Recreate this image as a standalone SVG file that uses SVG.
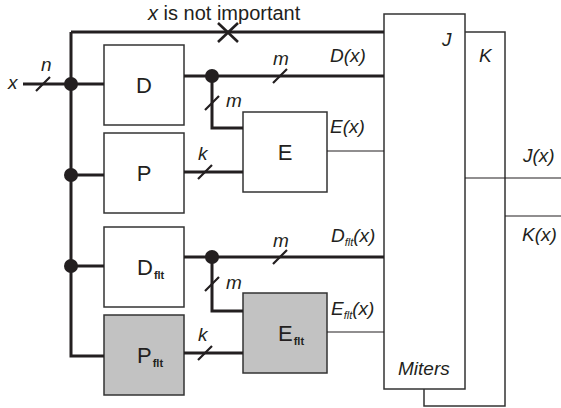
<svg xmlns="http://www.w3.org/2000/svg" width="561" height="408" viewBox="0 0 561 408">
<style>
.box{fill:#fff;stroke:#333;stroke-width:1.5}
.grey{fill:#c2c2c2}
.thick{fill:none;stroke:#231f20;stroke-width:3}
.thin{fill:none;stroke:#231f20;stroke-width:1.2}
.sl{fill:none;stroke:#231f20;stroke-width:2.2}
.dot{fill:#231f20}
text{font-family:"Liberation Sans",Arial,sans-serif;fill:#231f20}
.it{font-style:italic;font-size:19px}
.bl{font-size:22px}
.sub{font-size:11px;font-weight:bold}
.isub{font-size:11px;font-style:italic}
</style>
<rect width="561" height="408" fill="#fff"/>
<g id="K"><rect class="box" x="424" y="32" width="81" height="374"/><text class="it" x="479" y="62">K</text></g>
<g id="J"><rect class="box" x="384" y="14" width="81" height="375"/><text class="it" x="442" y="46">J</text><text class="it" x="398" y="375">Miters</text></g>
<g id="D"><rect class="box" x="104" y="45" width="80" height="80"/><text class="bl" x="144" y="93" text-anchor="middle">D</text></g>
<g id="P"><rect class="box" x="104" y="133" width="80" height="80"/><text class="bl" x="144" y="181" text-anchor="middle">P</text></g>
<g id="E"><rect class="box" x="243" y="112" width="84" height="80"/><text class="bl" x="285" y="160" text-anchor="middle">E</text></g>
<g id="Dflt"><rect class="box" x="104" y="227" width="80" height="80"/><text class="bl" x="137" y="275">D<tspan class="sub" dx="1" dy="4">flt</tspan></text></g>
<g id="Pflt"><rect class="box grey" x="104" y="315" width="80" height="80"/><text class="bl" x="137" y="363">P<tspan class="sub" dx="1" dy="4">flt</tspan></text></g>
<g id="Eflt"><rect class="box grey" x="243" y="293" width="84" height="80"/><text class="bl" x="278" y="341">E<tspan class="sub" dx="1" dy="4">flt</tspan></text></g>
<g id="connectors">
<path class="thick" d="M23,84H104M71,32H384M71,32V356H104M71,175H104M71,266H104"/>
<path class="thick" d="M184,76H384M212,76V128H243M184,172H243"/>
<path class="thick" d="M184,257H384M212,257V311H243M184,353H243"/>
<path class="thin" d="M327,151H384M327,332H384M465,178H561M505,216H561"/>
<circle class="dot" cx="71" cy="84" r="7"/>
<circle class="dot" cx="71" cy="175" r="7"/>
<circle class="dot" cx="71" cy="266" r="7"/>
<circle class="dot" cx="212" cy="76" r="7"/>
<circle class="dot" cx="212" cy="257" r="7"/>
<path class="sl" d="M36,91L50,77M273,83L287,69M205,110L219,96M198,179L212,165M273,264L287,250M205,291L219,277M198,360L212,346"/>
<path class="sl" style="stroke-width:2.6" d="M218,23L238,42M238,23L218,42"/>
</g>
<g id="labels">
<text class="it" x="148" y="20" style="font-size:20px"><tspan font-style="italic">x</tspan><tspan font-style="normal"> is not important</tspan></text>
<text class="it" x="8" y="89">x</text>
<text class="it" x="41" y="71">n</text>
<text class="it" x="273" y="65">m</text>
<text class="it" x="226" y="107">m</text>
<text class="it" x="198" y="160">k</text>
<text class="it" x="273" y="247">m</text>
<text class="it" x="226" y="289">m</text>
<text class="it" x="198" y="341">k</text>
<text class="it" x="330" y="62">D(x)</text>
<text class="it" x="330" y="133">E(x)</text>
<text class="it" x="331" y="242">D<tspan class="isub" dy="4">flt</tspan><tspan dy="-4">(x)</tspan></text>
<text class="it" x="331" y="315">E<tspan class="isub" dy="4">flt</tspan><tspan dy="-4">(x)</tspan></text>
<text class="it" x="523" y="162">J(x)</text>
<text class="it" x="522" y="241">K(x)</text>
</g>
</svg>
